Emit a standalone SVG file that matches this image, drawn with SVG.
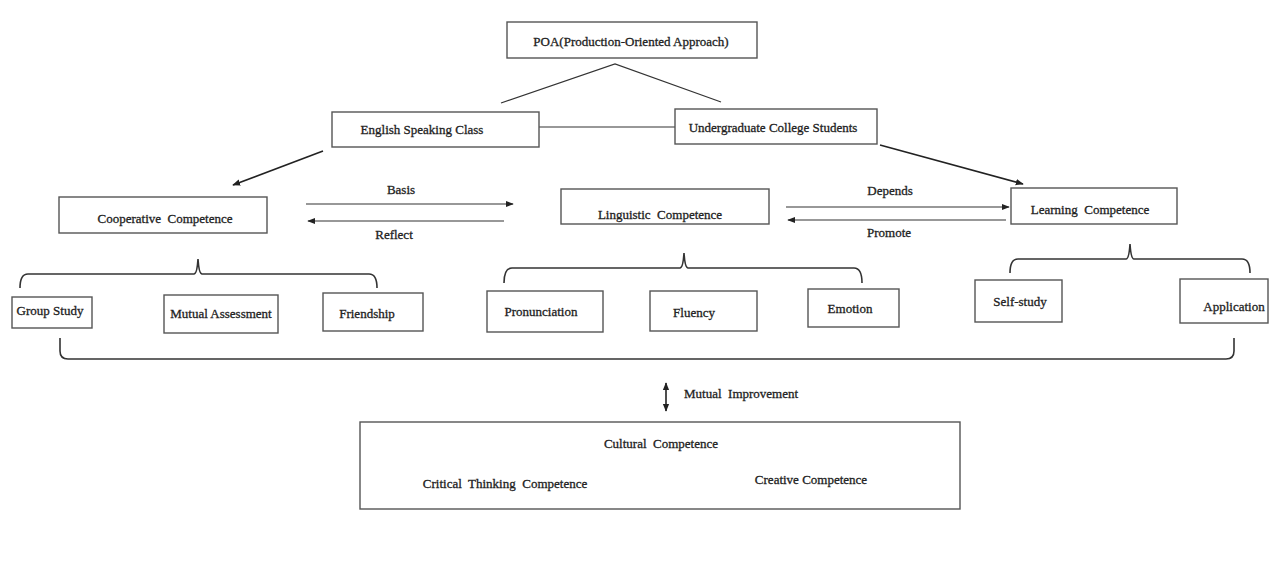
<svg xmlns="http://www.w3.org/2000/svg" width="1269" height="584" viewBox="0 0 1269 584">
<defs>
<style>
.box{fill:#fff;stroke:#555;stroke-width:1.4}
.t{font-family:"Liberation Serif","Times New Roman",serif;font-size:13px;fill:#222;stroke:#222;stroke-width:0.3;text-anchor:middle;dominant-baseline:central;white-space:pre}
.ln{fill:none;stroke:#333;stroke-width:1.2}
.ar{fill:none;stroke:#222;stroke-width:1.6}
.br{fill:none;stroke:#333;stroke-width:1.6}
</style>
<marker id="ah" viewBox="0 0 10 10" refX="9" refY="5" markerWidth="8" markerHeight="8" markerUnits="userSpaceOnUse" orient="auto">
<path d="M0,1 L10,5 L0,9 Z" fill="#222"/>
</marker>
<marker id="ahs" viewBox="0 0 10 10" refX="1" refY="5" markerWidth="8" markerHeight="8" markerUnits="userSpaceOnUse" orient="auto">
<path d="M10,1 L0,5 L10,9 Z" fill="#222"/>
</marker>
</defs>
<rect width="1269" height="584" fill="#fff"/>

<g id="connectors">
<path class="ln" d="M501,103 L615,64 L721,102"/>
<path class="ln" d="M539,127 L675,127"/>
<path class="ar" d="M323,151 L233,185" marker-end="url(#ah)"/>
<path class="ar" d="M880,145 L1023,184" marker-end="url(#ah)"/>
<path class="ln" d="M306,204 L513,204" marker-end="url(#ah)"/>
<path class="ln" d="M504,221 L308,221" marker-end="url(#ah)"/>
<path class="ln" d="M786,207 L1009,207" marker-end="url(#ah)"/>
<path class="ln" d="M1006,220 L788,220" marker-end="url(#ah)"/>
<path class="br" d="M20,288 Q20,274 28,274 L194,274 Q197,274 198,259 Q199,274 202,274 L369,274 Q377,274 377,288"/>
<path class="br" d="M504,283 Q504,268 512,268 L680,268 Q683,268 684,253 Q685,268 688,268 L854,268 Q862,268 862,283"/>
<path class="br" d="M1010,273 Q1010,259 1018,259 L1126,259 Q1129,259 1130,244 Q1131,259 1134,259 L1242,259 Q1250,259 1250,273"/>
<path class="br" d="M60,338 L60,351 Q60,359 68,359 L1226,359 Q1234,359 1234,351 L1234,338"/>
<path class="ar" d="M666,383 L666,411" marker-start="url(#ahs)" marker-end="url(#ah)"/>
<text class="t" x="684" y="393" style="text-anchor:start">Mutual  Improvement</text>
<text class="t" x="401" y="189">Basis</text>
<text class="t" x="394" y="234">Reflect</text>
<text class="t" x="890" y="190">Depends</text>
<text class="t" x="889" y="232">Promote</text>
</g>

<g id="poa"><rect class="box" x="507" y="22" width="250" height="36"/><text class="t" x="631" y="41">POA(Production-Oriented Approach)</text></g>
<g id="esc"><rect class="box" x="332" y="112" width="207" height="35"/><text class="t" x="422" y="129">English Speaking Class</text></g>
<g id="ugs"><rect class="box" x="675" y="109" width="202" height="35"/><text class="t" x="773" y="127">Undergraduate College Students</text></g>
<g id="coop"><rect class="box" x="59" y="197" width="208" height="36"/><text class="t" x="165" y="218">Cooperative  Competence</text></g>
<g id="ling"><rect class="box" x="561" y="189" width="208" height="35"/><text class="t" x="660" y="214">Linguistic  Competence</text></g>
<g id="learn"><rect class="box" x="1011" y="188" width="166" height="36"/><text class="t" x="1090" y="209">Learning  Competence</text></g>
<g id="group"><rect class="box" x="12" y="297" width="80" height="31"/><text class="t" x="50" y="310">Group Study</text></g>
<g id="mutual"><rect class="box" x="164" y="295" width="114" height="38"/><text class="t" x="221" y="313">Mutual Assessment</text></g>
<g id="friend"><rect class="box" x="323" y="293" width="100" height="38"/><text class="t" x="367" y="313">Friendship</text></g>
<g id="pron"><rect class="box" x="487" y="291" width="116" height="41"/><text class="t" x="541" y="311">Pronunciation</text></g>
<g id="flu"><rect class="box" x="650" y="291" width="107" height="40"/><text class="t" x="694" y="312">Fluency</text></g>
<g id="emo"><rect class="box" x="808" y="289" width="91" height="38"/><text class="t" x="850" y="308">Emotion</text></g>
<g id="self"><rect class="box" x="975" y="280" width="87" height="42"/><text class="t" x="1020" y="301">Self-study</text></g>
<g id="app"><rect class="box" x="1180" y="279" width="88" height="44"/><text class="t" x="1234" y="306">Application</text></g>
<g id="bottom"><rect class="box" x="360" y="422" width="600" height="87"/>
<text class="t" x="661" y="443">Cultural  Competence</text>
<text class="t" x="505" y="483">Critical  Thinking  Competence</text>
<text class="t" x="811" y="479">Creative Competence</text></g>
</svg>
